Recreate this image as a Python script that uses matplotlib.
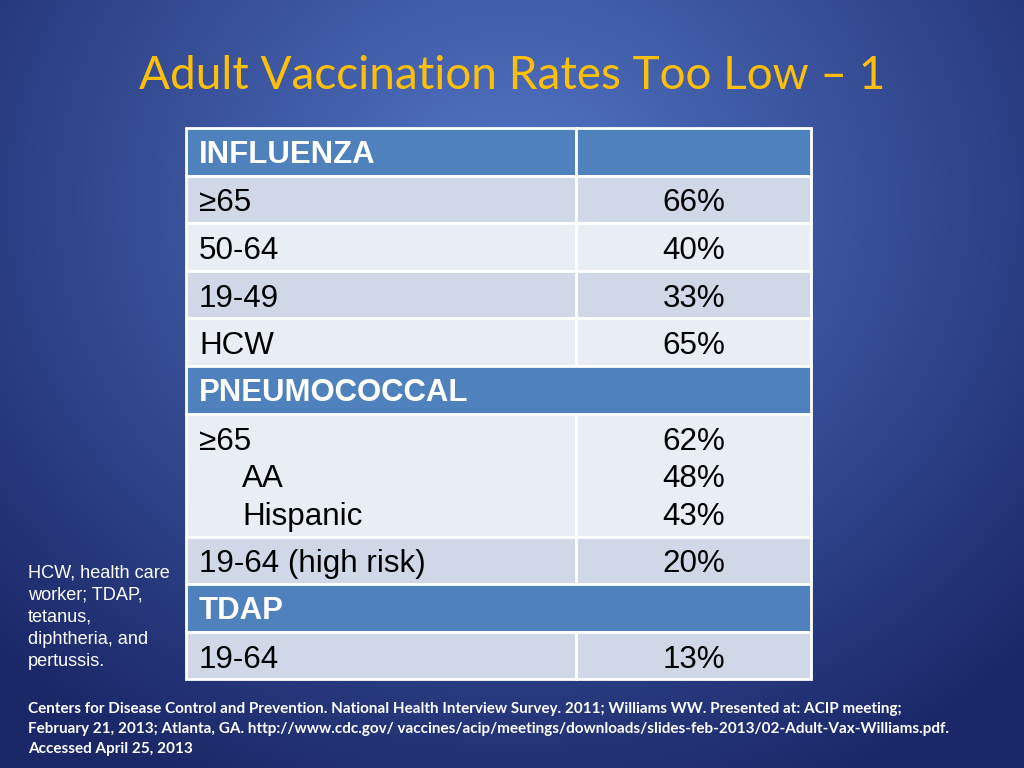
import numpy as np
import matplotlib
matplotlib.use("Agg")
import matplotlib.pyplot as plt
from matplotlib.patches import Rectangle

# table content
sections = ["INFLUENZA", "PNEUMOCOCCAL", "TDAP"]
influenza_groups = ["\u226565", "50-64", "19-49", "HCW"]
influenza_rates = [66, 40, 33, 65]
pneumo_groups = ["\u226565", "AA", "Hispanic"]
pneumo_rates = [62, 48, 43]
pneumo_risk_group = "19-64 (high risk)"
pneumo_risk_rate = 20
tdap_groups = ["19-64"]
tdap_rates = [13]

title = "Adult Vaccination Rates Too Low \u2013 1"
note = "HCW, health care\nworker; TDAP,\ntetanus,\ndiphtheria, and\npertussis."
footer = ("Centers for Disease Control and Prevention. National Health Interview Survey. 2011; Williams WW. Presented at: ACIP meeting;\n"
          "February 21, 2013; Atlanta, GA. http://www.cdc.gov/ vaccines/acip/meetings/downloads/slides-feb-2013/02-Adult-Vax-Williams.pdf.\n"
          "Accessed April 25, 2013")

W, H = 1024, 768
fig = plt.figure(figsize=(W / 100, H / 100), dpi=100)
ax = fig.add_axes([0, 0, 1, 1])
ax.set_xlim(0, W)
ax.set_ylim(H, 0)
ax.axis("off")

# radial blue background
yy, xx = np.mgrid[0:H, 0:W]
r = np.sqrt((xx - 512) ** 2 + ((yy - 200) / 0.9) ** 2) / 720
r = np.clip(r, 0, 1)
c0 = np.array([84, 118, 198]) / 255
c1 = np.array([26, 40, 104]) / 255
img = c0[None, None, :] * (1 - r[..., None]) + c1[None, None, :] * r[..., None]
ax.imshow(img, extent=[0, W, H, 0], zorder=0, aspect="auto")

# table geometry
x0, xm, x1 = 186, 576, 811
row_h = 47.6
y = 128
head_col = "#4f81bd"
dark = "#d0d8e8"
light = "#e9edf4"
lab_font = dict(family="Liberation Sans", fontsize=22.6, color="black", va="center")
head_font = dict(family="Liberation Sans", fontsize=22.4, color="white", weight="bold", va="center")


def cell(xa, ya, w, h, col):
    ax.add_patch(Rectangle((xa, ya), w, h, facecolor=col, edgecolor="white", lw=2, zorder=2))


def data_row(ya, h, labels, values, col, indent=None, first=None, step=None):
    cell(x0, ya, xm - x0, h, col)
    cell(xm, ya, x1 - xm, h, col)
    for i, (lab, val) in enumerate(zip(labels, values)):
        yc = ya + first + step * i if first is not None else ya + h / 2 + 3
        xl = x0 + 13 + (indent[i] if indent else 0)
        ax.text(xl, yc + 1, lab, zorder=3, **lab_font)
        ax.text(694, yc + 1, f"{val}%", ha="center", zorder=3, **lab_font)


def header(ya, text, split):
    if split:
        cell(x0, ya, xm - x0, row_h, head_col)
        cell(xm, ya, x1 - xm, row_h, head_col)
    else:
        cell(x0, ya, x1 - x0, row_h, head_col)
    ax.text(x0 + 13, ya + row_h / 2 + 3, text, zorder=3, **head_font)


# influenza
header(y, sections[0], True)
y += row_h
for i, (g, v) in enumerate(zip(influenza_groups, influenza_rates)):
    data_row(y, row_h, [g], [v], dark if i % 2 == 0 else light)
    y += row_h

# pneumococcal
header(y, sections[1], False)
y += row_h
tall = 123
data_row(y, tall, pneumo_groups, pneumo_rates, light, indent=[0, 43, 43], first=27, step=37.5)
y += tall
data_row(y, row_h, [pneumo_risk_group], [pneumo_risk_rate], dark)
y += row_h

# tdap
header(y, sections[2], False)
y += row_h
for g, v in zip(tdap_groups, tdap_rates):
    data_row(y, row_h, [g], [v], dark)
    y += row_h

# title
ax.text(512, 76, title, ha="center", va="center", color="#fdbf0a",
        family="Lato", fontsize=33, zorder=3)

# side note
ax.text(28, 617, note, ha="left", va="center", color="white",
        family="Liberation Sans", fontsize=13.1, linespacing=1.39, zorder=3)

# footer
ax.text(28, 729, footer, ha="left", va="center", color="white",
        family="Lato", weight="bold", fontsize=11.0, linespacing=1.5, zorder=3)

fig.savefig("out.png", dpi=100)
